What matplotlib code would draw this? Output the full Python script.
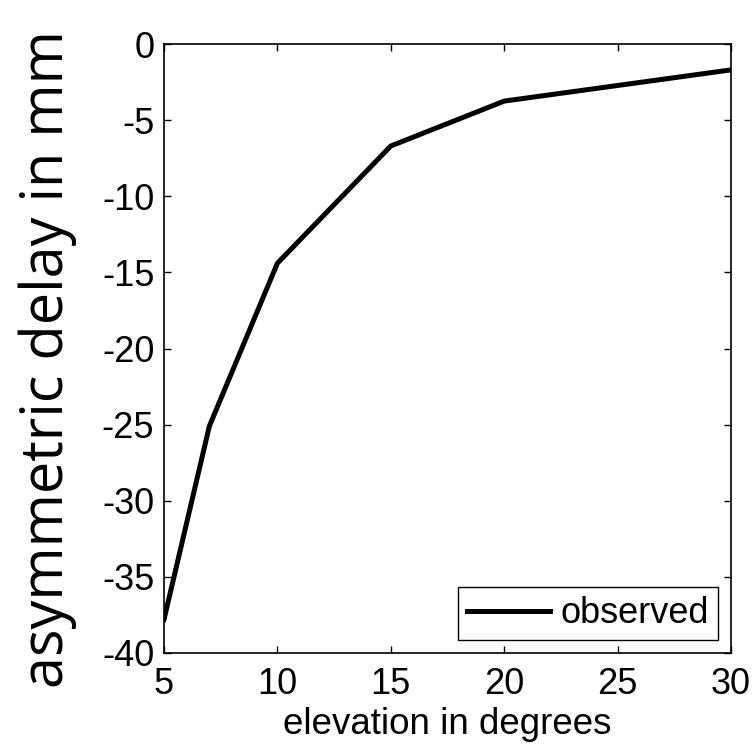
import matplotlib
matplotlib.use("Agg")
import matplotlib.pyplot as plt

elevation = [5, 7, 10, 15, 20, 30]
delay = [-37.8, -25.1, -14.4, -6.7, -3.75, -1.7]
series_label = "observed"
xticks = [5, 10, 15, 20, 25, 30]
yticks = [0, -5, -10, -15, -20, -25, -30, -35, -40]

fig = plt.figure(figsize=(7.56, 7.44), dpi=100)
ax = fig.add_axes([164/756, 1 - 653/744, (731-164)/756, (653-44)/744])
ax.plot(elevation, delay, color="black", linewidth=3.6, label=series_label)
ax.set_xlim(5, 30)
ax.set_ylim(-40, 0)
ax.set_xticks(xticks)
ax.set_yticks(yticks)
ax.set_xticklabels([str(t) for t in xticks], family="Liberation Sans", fontsize=26)
ax.set_yticklabels([str(t) for t in yticks], family="Liberation Sans", fontsize=26)
ax.tick_params(axis="both", direction="in", length=5, width=1, top=True, right=True)
ax.tick_params(axis="x", pad=10)
ax.tick_params(axis="y", pad=7)
for s in ax.spines.values():
    s.set_linewidth(1.2)
ax.set_xlabel("elevation in degrees", family="Liberation Sans", fontsize=26.5, labelpad=4)
ax.set_ylabel("asymmetric delay in mm", family="Open Sans", fontsize=41.5)
ax.yaxis.set_label_coords(-0.153, 0.483)
leg = ax.legend(loc="lower right", prop={"family": "Liberation Sans", "size": 26},
                fancybox=False, edgecolor="black", framealpha=1, handlelength=2.3,
                borderpad=0.25, handletextpad=0.3, borderaxespad=0.35)
leg.get_frame().set_linewidth(1.0)
fig.savefig("out.png", dpi=100)
